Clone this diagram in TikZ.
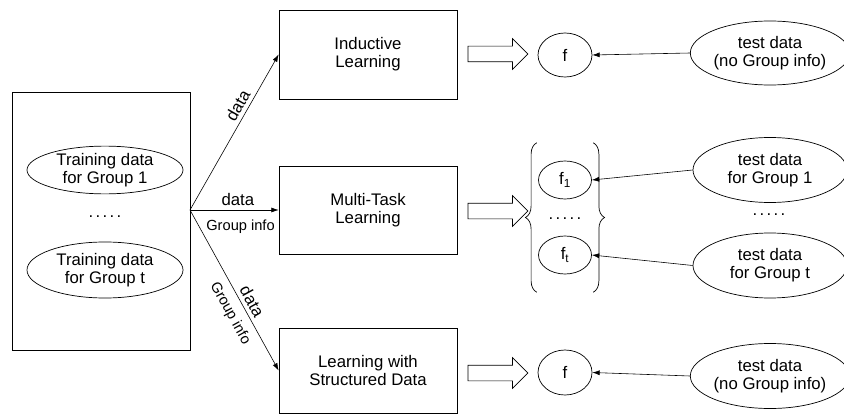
\documentclass[tikz,border=0pt]{standalone}
\usepackage{fontspec}
\setmainfont{Liberation Sans}
\usetikzlibrary{arrows.meta, shapes.geometric, shapes.arrows, decorations.pathreplacing, positioning}

\begin{document}
\begin{tikzpicture}[x=0.3mm, y=-0.3mm, >={Latex[length=2.2mm,width=1.5mm]},
  lbl/.style={font=\fontsize{14.3}{15.5}\selectfont},
  small/.style={font=\fontsize{12.5}{14}\selectfont},
  box/.style={draw, line width=0.6pt, minimum width=53.4mm, align=center, inner sep=0pt, lbl},
  blob/.style={draw, ellipse, line width=0.6pt, inner sep=0pt, align=center, lbl},
  fat/.style={draw, single arrow, single arrow head extend=2.25mm, single arrow tip angle=90,
              inner xsep=0pt, inner ysep=2.25mm, minimum height=18mm, line width=0.6pt},
  brace/.style={decorate, decoration={brace, amplitude=3.4mm}, line width=0.6pt},
  link/.style={->, line width=0.5pt}]

  \useasboundingbox (0,0) rectangle (844,416);

  % training side
  \node[box, minimum height=77.4mm] (train) at (101,221) {};
  \node[blob, minimum width=46.8mm, minimum height=13.5mm] (tr1) at (105,170)
    {Training data\\for Group 1};
  \node[lbl] (trdots) at (105,217) {.\kern2pt.\kern2pt.\kern2pt.\kern2pt.};
  \node[blob, minimum width=46.8mm, minimum height=16.8mm] (trt) at (105,270)
    {Training data\\for Group t};
  \coordinate (src) at (190,210);

  % learners
  \node[box, minimum height=26.7mm] (ind) at (368,54.5) {Inductive\\Learning};
  \node[box, minimum height=26.4mm] (mtl) at (368,210) {Multi-Task\\Learning};
  \node[box, minimum height=25.5mm] (lsd) at (368,370.5) {Learning with\\Structured Data};

  \draw[link] (src) -- node[lbl, sloped, above, pos=0.64] {data} (ind.west);
  \draw[link] (src) -- node[lbl, above, pos=0.54] {data}
                       node[small, below=1.8mm, pos=0.57] {Group info} (mtl.west);
  \draw[link] (src) -- node[lbl, sloped, above, pos=0.6] {data}
                       node[small, sloped, below=1.2mm, pos=0.6] {Group info} (lsd.west);

  % learned models
  \node[fat] (go1) at (494,54) {};
  \node[fat] (go2) at (494,211) {};
  \node[fat] (go3) at (494,373) {};

  \node[blob, minimum width=16.2mm, minimum height=13.2mm] (fa) at (565,55) {f};
  \node[minimum width=16.8mm, minimum height=44.7mm, inner sep=0pt] (fset) at (565,217.5) {};
  \node[blob, minimum width=15.9mm, minimum height=11.4mm] (f1) at (565,180) {f\textsubscript{1}};
  \node[lbl] (fdots) at (565,219) {.\kern2pt.\kern2pt.\kern2pt.\kern2pt.};
  \node[blob, minimum width=15.9mm, minimum height=11.4mm] (ft) at (565,255) {f\textsubscript{t}};
  \node[blob, minimum width=16.2mm, minimum height=13.5mm] (fb) at (565,372.5) {f};

  \draw[brace] (fset.south west) -- (fset.north west);
  \draw[brace] (fset.north east) -- (fset.south east);

  % test data
  \node[blob, minimum width=46.2mm, minimum height=19.2mm] (tsa) at (770,53) {test data\\(no Group info)};
  \node[blob, minimum width=46.2mm, minimum height=19.5mm] (ts1) at (770,170) {test data\\for Group 1};
  \node[lbl] (tsdots) at (769,215) {.\kern2pt.\kern2pt.\kern2pt.\kern2pt.};
  \node[blob, minimum width=46.2mm, minimum height=19.5mm] (tst) at (770,265.5) {test data\\for Group t};
  \node[blob, minimum width=46.2mm, minimum height=19.5mm] (tsb) at (770,376) {test data\\(no Group info)};

  \draw[link] (tsa.west) -- (fa.east);
  \draw[link] (ts1.west) -- (f1.east);
  \draw[link] (tst.west) -- (ft.east);
  \draw[link] (tsb.west) -- (fb.east);

\end{tikzpicture}
\end{document}
